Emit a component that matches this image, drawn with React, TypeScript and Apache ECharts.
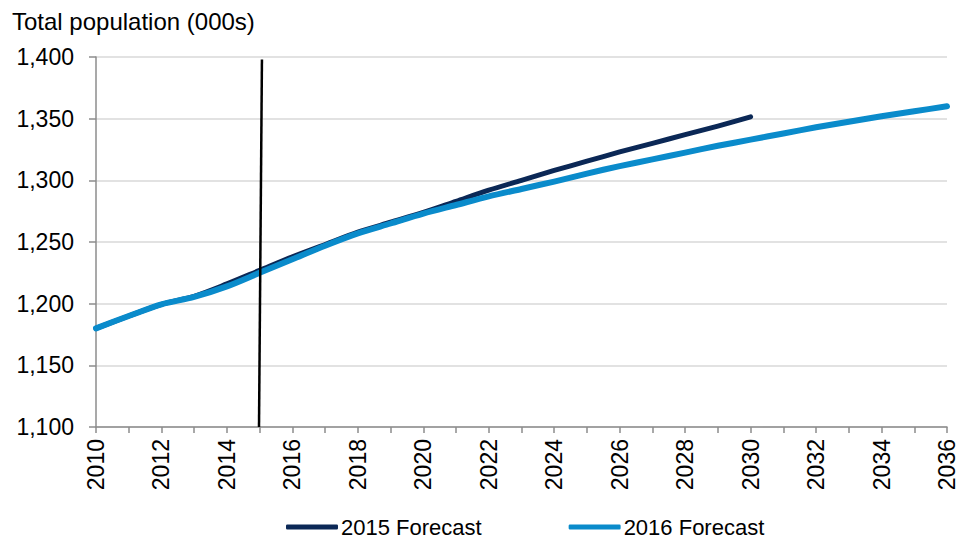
import React, { useEffect, useRef } from "react";
import * as echarts from "echarts";

// Forecast years and population totals (thousands)
const years2015: number[] = [2010, 2011, 2012, 2013, 2014, 2015, 2016, 2017, 2018, 2019, 2020, 2021, 2022, 2023, 2024, 2025, 2026, 2027, 2028, 2029, 2030];
const forecast2015: number[] = [1180, 1190, 1199.5, 1206, 1216, 1227, 1238, 1248, 1258, 1266, 1274, 1283, 1292, 1300, 1308, 1315.5, 1323, 1330, 1337, 1344, 1351.5];

const years2016: number[] = [2010, 2011, 2012, 2013, 2014, 2015, 2016, 2017, 2018, 2019, 2020, 2021, 2022, 2023, 2024, 2025, 2026, 2027, 2028, 2029, 2030, 2031, 2032, 2033, 2034, 2035, 2036];
const forecast2016: number[] = [1180, 1190, 1199.5, 1205.5, 1214, 1225, 1236, 1247, 1257, 1265, 1273, 1280, 1287, 1293, 1299, 1305.5, 1311.5, 1317, 1322.5, 1328, 1333, 1338, 1343, 1347.5, 1352, 1356, 1360];

const seriesNames: string[] = ["2015 Forecast", "2016 Forecast"];
const titleText = "Total population (000s)";

// Divider marking the 2015 base year
const dividerYear = 2015;

const FONT = "'Liberation Sans', Arial, sans-serif";

export default function App() {
  const ref = useRef<HTMLDivElement>(null);

  useEffect(() => {
    if (!ref.current) return;
    const chart = echarts.init(ref.current, undefined, { renderer: "svg" });
    chart.setOption({
      animation: false,
      backgroundColor: "#ffffff",
      textStyle: { fontFamily: FONT },
      title: {
        text: titleText,
        left: 7,
        top: 4,
        textStyle: { fontFamily: FONT, fontSize: 24, fontWeight: "normal", color: "#000000" },
      },
      grid: { left: 96, right: 19, top: 57, bottom: 111, containLabel: false },
      legend: {
        left: 281,
        top: 511,
        itemWidth: 52,
        itemHeight: 5,
        itemGap: 87,
        icon: "roundRect",
        textStyle: { fontFamily: FONT, fontSize: 22, color: "#000000", padding: [0, 0, 0, -2] },
        data: seriesNames,
      },
      xAxis: {
        type: "value",
        min: 2010,
        max: 2036,
        interval: 1,
        axisLine: { show: true, lineStyle: { color: "#8c8c8c", width: 1.5 } },
        axisTick: { show: true, length: 6, lineStyle: { color: "#8c8c8c", width: 1.5 } },
        splitLine: { show: false },
        axisLabel: {
          rotate: 90,
          margin: 12,
          fontFamily: FONT,
          fontSize: 23,
          color: "#000000",
          formatter: (v: number) => (v % 2 === 0 ? String(v) : ""),
        },
      },
      yAxis: {
        type: "value",
        min: 1100,
        max: 1400,
        interval: 50,
        axisLine: { show: true, lineStyle: { color: "#8c8c8c", width: 1.5 } },
        axisTick: { show: true, length: 7, lineStyle: { color: "#8c8c8c", width: 1.5 } },
        splitLine: { show: true, lineStyle: { color: "#d9d9d9", width: 1.5 } },
        axisLabel: {
          margin: 22,
          fontFamily: FONT,
          fontSize: 23,
          color: "#000000",
          formatter: (v: number) => v.toLocaleString("en-US"),
        },
      },
      series: [
        {
          name: seriesNames[0],
          type: "line",
          data: years2015.map((y, i) => [y, forecast2015[i]]),
          showSymbol: false,
          symbol: "none",
          smooth: 0.3,
          color: "#0b2856",
          lineStyle: { width: 5, color: "#0b2856", cap: "round", join: "round" },
          z: 2,
          markLine: {
            silent: true,
            symbol: "none",
            label: { show: false },
            lineStyle: { color: "#000000", width: 2.5, type: "solid" },
            data: [[{ coord: [dividerYear + 0.07, 1398] }, { coord: [dividerYear - 0.02, 1100] }]],
          },
        },
        {
          name: seriesNames[1],
          type: "line",
          data: years2016.map((y, i) => [y, forecast2016[i]]),
          showSymbol: false,
          symbol: "none",
          smooth: 0.3,
          color: "#0a8bcb",
          lineStyle: { width: 6, color: "#0a8bcb", cap: "round", join: "round" },
          z: 3,
        },
      ],
    });
    return () => chart.dispose();
  }, []);

  return <div ref={ref} style={{ width: 966, height: 538, position: "absolute", left: 0, top: 0 }} />;
}
